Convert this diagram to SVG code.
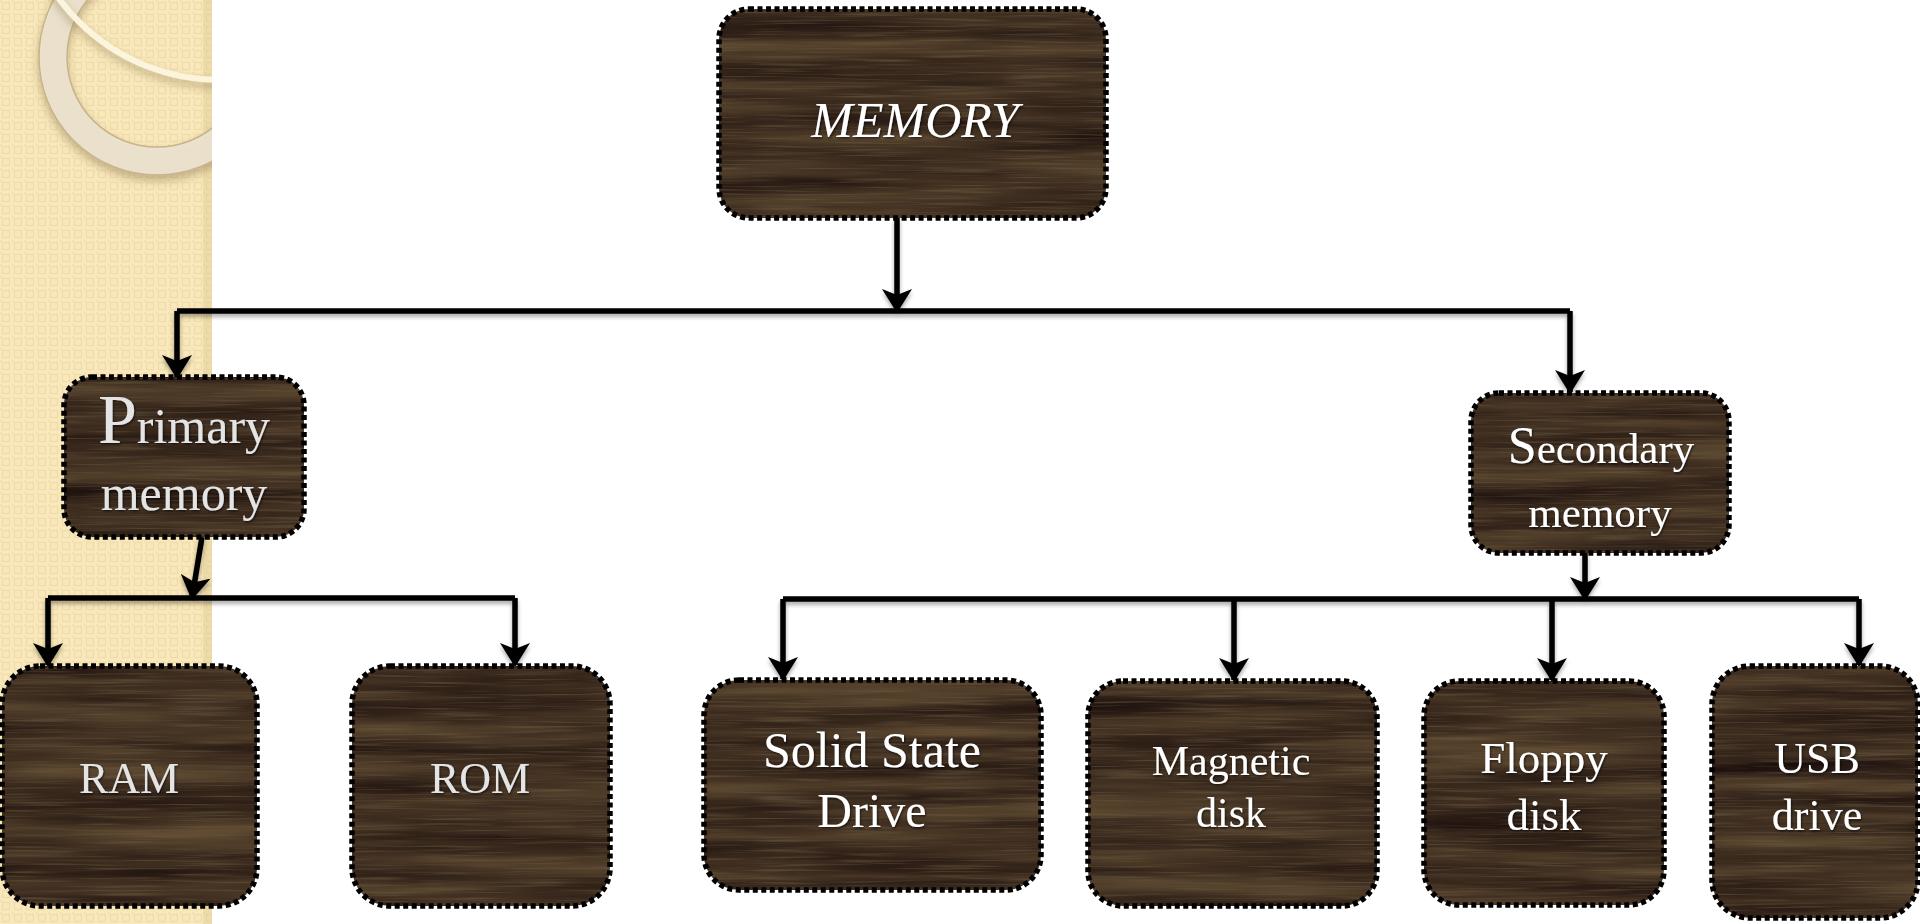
<svg xmlns="http://www.w3.org/2000/svg" width="1920" height="924" viewBox="0 0 1920 924">
<defs>
<style>
.box{stroke:#000;stroke-width:5.5;stroke-dasharray:5 3.5;fill:none}
.wood{fill:#3e2d20}
.t{font-family:"Liberation Serif","DejaVu Serif",serif;fill:#fff;text-anchor:middle}
.g{fill:#e4e4e4}
.ln{fill:none;stroke:#000;stroke-width:5.5}
.arr{marker-end:url(#ah)}
</style>
<pattern id="check" width="12" height="12" patternUnits="userSpaceOnUse">
<rect width="12" height="12" fill="#f8e8bb"/>
<rect x="2.5" y="2.5" width="7" height="7" fill="none" stroke="#efdca9" stroke-width="1.2"/>
<rect x="0" y="0" width="2" height="2" fill="#f1e0b0"/>
</pattern>
<filter id="wood" x="0" y="0" width="1" height="1" color-interpolation-filters="sRGB">
<feTurbulence type="fractalNoise" baseFrequency="0.003 0.05" numOctaves="3" seed="5" result="n"/>
<feColorMatrix in="n" type="matrix" values="0.36 0 0 0 0.065  0.32 0 0 0 0.02  0.2 0 0 0 0.025  0 0 0 0 1" result="c"/>
<feTurbulence type="fractalNoise" baseFrequency="0.012 0.5" numOctaves="2" seed="9" result="f"/>
<feColorMatrix in="f" type="matrix" values="0 0 0 0 0.42  0 0 0 0 0.36  0 0 0 0 0.26  1.6 0 0 0 -0.8" result="fa"/>
<feComposite in="fa" in2="c" operator="over" result="w"/>
<feComposite in="w" in2="SourceGraphic" operator="in"/>
</filter>
<filter id="sh" x="-5%" y="-20%" width="110%" height="160%">
<feDropShadow dx="0" dy="3" stdDeviation="2" flood-color="#000" flood-opacity="0.35"/>
</filter>
<filter id="tsh" x="-10%" y="-10%" width="120%" height="130%">
<feDropShadow dx="1" dy="1.5" stdDeviation="0.8" flood-color="#000" flood-opacity="0.6"/>
</filter>
<filter id="rsh" x="-20%" y="-20%" width="140%" height="140%">
<feDropShadow dx="0" dy="5" stdDeviation="4" flood-color="#7a6540" flood-opacity="0.45"/>
</filter>
<marker id="ah" viewBox="0 0 24 30" refX="22" refY="15" markerWidth="24" markerHeight="30" markerUnits="userSpaceOnUse" orient="auto">
<path d="M0,0 L24,15 L0,30 L6,15 z" fill="#000"/>
</marker>
<clipPath id="panel"><rect x="0" y="0" width="212" height="924"/></clipPath>
</defs>

<rect width="1920" height="924" fill="#fff"/>
<g id="background">
<rect x="0" y="0" width="212" height="924" fill="url(#check)"/>
<rect x="203" y="0" width="9" height="924" fill="#e3d09c" opacity="0.55"/>
<g clip-path="url(#panel)">
<g filter="url(#rsh)">
<circle cx="157" cy="57" r="104" fill="none" stroke="#ebe3cf" stroke-width="28" opacity="0.92"/>
<circle cx="157" cy="57" r="118" fill="none" stroke="#c9b48a" stroke-width="1.5"/>
<circle cx="157" cy="57" r="90" fill="none" stroke="#c9b48a" stroke-width="1.5"/>
</g>
<circle cx="220" cy="-120" r="200" fill="none" stroke="#fcf5dd" stroke-width="6" filter="url(#rsh)"/>
</g>
</g>

<g id="connectors" filter="url(#sh)">
<path class="ln arr" d="M897,218 V311"/>
<path class="ln" d="M177,311 H1570"/>
<path class="ln arr" d="M177,311 V377"/>
<path class="ln arr" d="M1570,311 V392"/>
<path class="ln arr" d="M202,537 L192,598"/>
<path class="ln" d="M48,598 H515"/>
<path class="ln arr" d="M48,598 V665"/>
<path class="ln arr" d="M515,598 V665"/>
<path class="ln arr" d="M1585,553 V599"/>
<path class="ln" d="M783,599 H1859"/>
<path class="ln arr" d="M783,599 V679"/>
<path class="ln arr" d="M1234,599 V680"/>
<path class="ln arr" d="M1552,599 V680"/>
<path class="ln arr" d="M1859,599 V665"/>
</g>

<g id="memory">
<rect class="wood" filter="url(#wood)" x="719" y="9" width="387" height="209" rx="30"/>
<rect class="box" x="719" y="9" width="387" height="209" rx="30"/>
<text class="t" x="915" y="137" font-size="50" font-style="italic" filter="url(#tsh)">MEMORY</text>
</g>

<g id="primary">
<rect class="wood" filter="url(#wood)" x="64" y="377" width="240" height="160" rx="28"/>
<rect class="box" x="64" y="377" width="240" height="160" rx="28"/>
<text class="t g" x="184" y="443" font-size="50" filter="url(#tsh)"><tspan font-size="70">P</tspan>rimary</text>
<text class="t g" x="184" y="510" font-size="50" filter="url(#tsh)">memory</text>
</g>

<g id="secondary">
<rect class="wood" filter="url(#wood)" x="1471" y="393" width="258" height="160" rx="28"/>
<rect class="box" x="1471" y="393" width="258" height="160" rx="28"/>
<text class="t" x="1601" y="463" font-size="43" filter="url(#tsh)"><tspan font-size="52">S</tspan>econdary</text>
<text class="t" x="1600" y="527" font-size="43" filter="url(#tsh)">memory</text>
</g>

<g id="ram">
<rect class="wood" filter="url(#wood)" x="2" y="666" width="255" height="240" rx="38"/>
<rect class="box" x="2" y="666" width="255" height="240" rx="38"/>
<text class="t g" x="129" y="793" font-size="44" filter="url(#tsh)">RAM</text>
</g>

<g id="rom">
<rect class="wood" filter="url(#wood)" x="352" y="666" width="258" height="240" rx="38"/>
<rect class="box" x="352" y="666" width="258" height="240" rx="38"/>
<text class="t g" x="480" y="793" font-size="44" filter="url(#tsh)">ROM</text>
</g>

<g id="ssd">
<rect class="wood" filter="url(#wood)" x="704" y="680" width="337" height="210" rx="35"/>
<rect class="box" x="704" y="680" width="337" height="210" rx="35"/>
<text class="t" x="872" y="767" font-size="50" filter="url(#tsh)">Solid State</text>
<text class="t" x="872" y="827" font-size="48" filter="url(#tsh)">Drive</text>
</g>

<g id="magnetic">
<rect class="wood" filter="url(#wood)" x="1088" y="681" width="289" height="225" rx="35"/>
<rect class="box" x="1088" y="681" width="289" height="225" rx="35"/>
<text class="t" x="1231" y="775" font-size="42" filter="url(#tsh)">Magnetic</text>
<text class="t" x="1231" y="827" font-size="42" filter="url(#tsh)">disk</text>
</g>

<g id="floppy">
<rect class="wood" filter="url(#wood)" x="1424" y="681" width="240" height="224" rx="35"/>
<rect class="box" x="1424" y="681" width="240" height="224" rx="35"/>
<text class="t" x="1544" y="773" font-size="45" filter="url(#tsh)">Floppy</text>
<text class="t" x="1544" y="830" font-size="45" filter="url(#tsh)">disk</text>
</g>

<g id="usb">
<rect class="wood" filter="url(#wood)" x="1712" y="666" width="206" height="252" rx="38"/>
<rect class="box" x="1712" y="666" width="206" height="252" rx="38"/>
<text class="t" x="1817" y="773" font-size="44" filter="url(#tsh)">USB</text>
<text class="t" x="1817" y="830" font-size="44" filter="url(#tsh)">drive</text>
</g>
</svg>
